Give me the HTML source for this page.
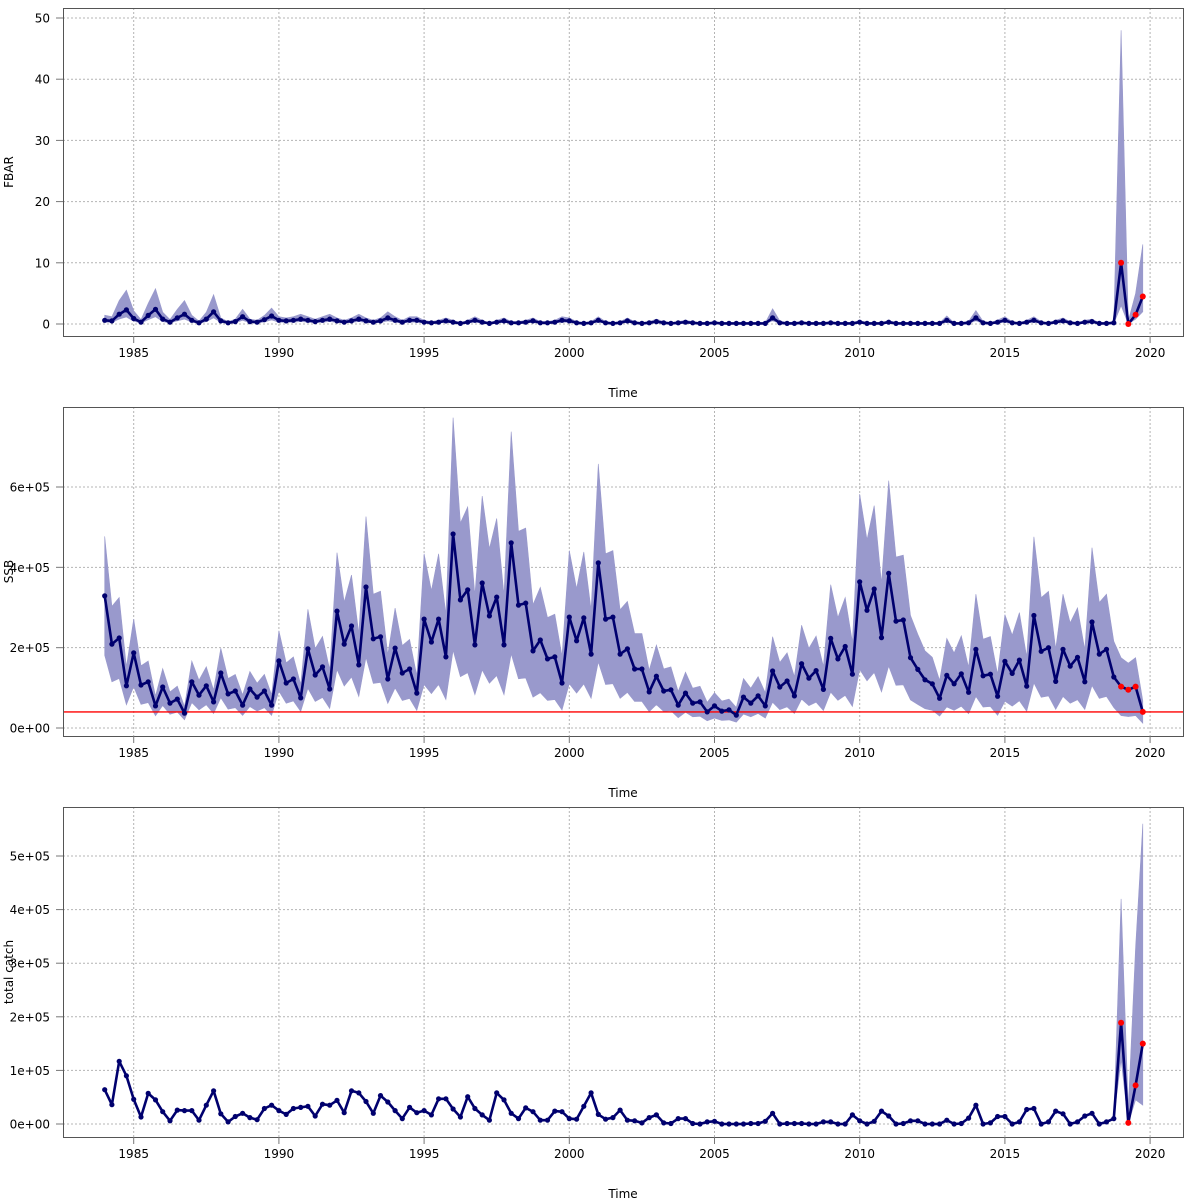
<!DOCTYPE html>
<html><head><meta charset="utf-8"><title>Stock assessment time series</title>
<style>
html,body{margin:0;padding:0;background:#fff;}
svg{display:block;font-family:"DejaVu Sans","Liberation Sans",sans-serif;}
</style></head>
<body>
<svg id="chart" width="1200" height="1200" viewBox="0 0 1200 1200" xmlns="http://www.w3.org/2000/svg"></svg>
<script>
// ---- data (quarterly, 1984 Q1 .. 2019 Q4) ----
const startYear = 1984;
const xTicks = [1985, 1990, 1995, 2000, 2005, 2010, 2015, 2020];

const fbar = [
 .6,.5,1.6,2.3, .9,.3,1.4,2.4, .8,.3,1.0,1.6, .6,.2,.8,2.0,
 .5,.2,.4,1.2, .4,.3,.7,1.3, .6,.5,.6,.8, .6,.4,.6,.8,
 .5,.3,.5,.8, .5,.3,.5,1.0, .6,.3,.6,.6, .3,.2,.3,.5,
 .3,.1,.3,.6, .3,.1,.3,.5, .2,.2,.3,.5, .2,.2,.3,.6,
 .5,.2,.1,.2, .6,.2,.1,.2, .5,.2,.1,.2, .4,.2,.1,.2,
 .3,.2,.1,.1, .2,.1,.1,.1, .1,.1,.1,.1, 1.0,.2,.1,.1,
 .2,.1,.1,.1, .2,.1,.1,.1, .3,.1,.1,.1, .3,.1,.1,.1,
 .1,.1,.1,.1, .6,.1,.1,.2, 1.0,.2,.1,.3, .6,.2,.1,.3,
 .6,.2,.1,.3, .5,.2,.1,.3, .4,.1,.1,.2, 10,0,1.5,4.5
];
// per-year band multipliers
const fbarUpF = [2.4,2.4,2.4,2.4,2.0,2.0,2.0,2.0,2.0,2.0,2.0,2.0,2.0,2.0,2.0,2.0,2.0,2.0,2.0,2.0,2.0,2.0,2.0,2.5,2.0,2.0,2.0,2.0,2.0,2.2,2.2,2.0,2.0,2.0,2.0,3.0];
const fbarLoF = [0.5,0.5,0.5,0.5,0.5,0.5,0.5,0.5,0.5,0.5,0.5,0.5,0.5,0.5,0.5,0.5,0.5,0.5,0.5,0.5,0.5,0.5,0.5,0.5,0.5,0.5,0.5,0.5,0.5,0.5,0.5,0.5,0.5,0.5,0.5,0.5];
const fbarUpLast = [48, 0.5, 5, 13];
const fbarLoLast = [3, 0, 0.8, 2];
const fbarYTicks = [0,10,20,30,40,50];
const fbarYLabels = ["0","10","20","30","40","50"];

// SSB in thousands of tonnes
const ssb = [
 329,209,224,105,187,107,115,55,102,62,72,37,115,82,105,65,137,85,92,57,97,77,92,57,
 167,112,122,75,197,132,152,97,291,209,254,157,351,222,227,122,199,137,147,87,271,214,271,177,483,
 319,344,207,361,279,326,207,461,306,311,192,219,172,177,112,276,217,274,184,411,
 271,276,184,197,147,147,90,129,92,95,57,87,62,65,40,55,42,45,32,77,62,80,55,142,102,117,80,
 160,124,143,96,223,172,203,134,364,293,346,225,385,266,269,175,146,120,110,74,131,110,135,89,
 196,130,134,79,166,136,169,104,280,191,200,116,196,154,176,115,264,184,196,127,103,95,103,40
];
const ssbUpF = [1.45,1.45,1.45,1.45,1.45,1.45,1.45,1.5,1.5,1.5,1.5,1.6,1.6,1.6,1.6,1.6,1.6,1.6,1.6,1.6,1.6,1.6,1.6,1.6,1.6,1.6,1.6,1.6,1.6,1.7,1.7,1.7,1.7,1.7,1.7,1.7];
const ssbLoF = [0.55,0.55,0.55,0.55,0.55,0.55,0.55,0.5,0.5,0.5,0.5,0.4,0.4,0.4,0.4,0.4,0.4,0.4,0.45,0.45,0.45,0.45,0.45,0.45,0.45,0.4,0.4,0.4,0.4,0.4,0.4,0.4,0.4,0.4,0.4,0.3];
const ssbRef = 40;
const ssbYTicks = [0,200,400,600];
const ssbYLabels = ["0e+00","2e+05","4e+05","6e+05"];

// total catch in thousands
const catchVals = [
 64,36,117,90,46,13,57,45,23,6,26,25,25,7,35,62,19,4,14,20,12,8,29,35,25,18,29,31,33,15,
 37,35,44,21,62,58,42,20,53,41,25,10,31,21,25,17,47,47,28,13,51,29,17,7,58,45,20,10,30,23,
 7,7,24,23,10,9,33,58,18,9,12,26,7,
 6,2,12,17,2,1,10,10,1,0,4,5,0,0,0,0,1,1,5,20,0,1,1,1,0,0,4,4,0,0,17,6,0,5,24,15,0,1,6,6,
 0,0,0,7,0,1,11,35,0,2,14,14,0,4,27,29,0,4,24,19,0,4,15,20,0,4,10,189,2,72,150
];
const catchUpLast = [420, 30, 330, 560];
const catchLoLast = [120, 1, 45, 35];
const catchYTicks = [0,100,200,300,400,500];
const catchYLabels = ["0e+00","1e+05","2e+05","3e+05","4e+05","5e+05"];

// ---- drawing ----
const NS = "http://www.w3.org/2000/svg";
const svg = document.getElementById("chart");
const L = 63, R = 1184;
function xOf(t){ return 133.7 + (t - 1985) * 29.04; }
function mk(tag, attrs, parent){
  const e = document.createElementNS(NS, tag);
  for (const k in attrs) e.setAttribute(k, attrs[k]);
  (parent || svg).appendChild(e);
  return e;
}

function panel(o){
  const g = mk("g", {});
  
  
  const yOf = v => o.y0 - (v - o.vmin) / (o.vmax - o.vmin) * (o.y0 - o.y1);
  const clipId = o.name + "-clip";
  const cp = mk("clipPath", {id: clipId}, g);
  mk("rect", {x: L, y: o.top, width: R - L, height: o.bottom - o.top}, cp);

  // grid
  const grid = mk("g", {stroke: "#b4b4b4", "stroke-width": 1, "stroke-dasharray": "2,2"}, g);
  
  
  xTicks.forEach(t => mk("line", {x1: xOf(t), x2: xOf(t), y1: o.top, y2: o.bottom}, grid));
  o.yTicks.forEach(v => mk("line", {x1: L, x2: R, y1: yOf(v), y2: yOf(v)}, grid));

  const n = o.vals.length;
  const ts = o.vals.map((v, i) => startYear + i / 4);

  // band
  if (o.up && o.lo){
    const pts = [];
    for (let i = 0; i < n; i++) pts.push(xOf(ts[i]).toFixed(1) + "," + yOf(o.up[i]).toFixed(1));
    for (let i = n - 1; i >= 0; i--) pts.push(xOf(ts[i]).toFixed(1) + "," + yOf(o.lo[i]).toFixed(1));
    const band = mk("polygon", {points: pts.join(" "), fill: "#9999cc", stroke: "#9999cc", "stroke-width": 0.6, "clip-path": "url(#" + clipId + ")"}, g);
    
    
  }
  if (o.ref !== undefined){
    const rl = mk("line", {x1: L, x2: R, y1: yOf(o.ref), y2: yOf(o.ref), stroke: "#ff0000", "stroke-width": 1.3}, g);
    
    
  }
  // line
  const lp = o.vals.map((v, i) => xOf(ts[i]).toFixed(1) + "," + yOf(v).toFixed(1)).join(" ");
  const line = mk("polyline", {points: lp, fill: "none", stroke: "#00006e", "stroke-width": 2.6, "stroke-linejoin": "round", "clip-path": "url(#" + clipId + ")"}, g);
  
  
  // points
  o.vals.forEach((v, i) => {
    const red = i >= n - 4;
    const c = mk("circle", {cx: xOf(ts[i]).toFixed(1), cy: yOf(v).toFixed(1), r: red ? 3 : 2.6, fill: red ? "#ff0000" : "#00006e"}, g);
    
    
  });

  // box
  const box = mk("rect", {x: L + 0.5, y: o.top + 0.5, width: R - L - 1, height: o.bottom - o.top, fill: "none", stroke: "#555", "stroke-width": 1}, g);
  
  

  // x axis
  const xa = mk("g", {}, g);
  
  
  xTicks.forEach(t => {
    mk("line", {x1: xOf(t), x2: xOf(t), y1: o.bottom, y2: o.bottom + 7, stroke: "#777", "stroke-width": 1}, xa);
    const tx = mk("text", {x: xOf(t), y: o.bottom + 21, "text-anchor": "middle", "font-size": 12, fill: "#000"}, xa);
    tx.textContent = t;
    
    
  });
  const xt = mk("text", {x: 623, y: o.bottom + 61, "text-anchor": "middle", "font-size": 12, fill: "#000"}, g);
  xt.textContent = "Time";
  
  

  // y axis
  const ya = mk("g", {}, g);
  
  
  o.yTicks.forEach((v, k) => {
    mk("line", {x1: L - 7, x2: L, y1: yOf(v), y2: yOf(v), stroke: "#777", "stroke-width": 1}, ya);
    const tx = mk("text", {x: 50, y: yOf(v) + 4.5, "text-anchor": "end", "font-size": 12, fill: "#000"}, ya);
    tx.textContent = o.yLabels[k];
    
    
  });
  const cy = (o.top + o.bottom) / 2;
  const yt = mk("text", {x: 13, y: cy, "text-anchor": "middle", "font-size": 12, fill: "#000", transform: "rotate(-90 13 " + cy + ")"}, g);
  yt.textContent = o.title;
  
  
}

// band arrays from data
const nQ = fbar.length;
const fbarUp = fbar.map((v, i) => i >= nQ - 4 ? fbarUpLast[i - (nQ - 4)] : v * fbarUpF[Math.floor(i / 4)]);
const fbarLo = fbar.map((v, i) => i >= nQ - 4 ? fbarLoLast[i - (nQ - 4)] : v * fbarLoF[Math.floor(i / 4)]);
const ssbUp = ssb.map((v, i) => v * ssbUpF[Math.floor(i / 4)]);
const ssbLo = ssb.map((v, i) => v * ssbLoF[Math.floor(i / 4)]);
const nC = catchVals.length;
const catchUp = catchVals.map((v, i) => i >= nC - 4 ? catchUpLast[i - (nC - 4)] : v);
const catchLo = catchVals.map((v, i) => i >= nC - 4 ? catchLoLast[i - (nC - 4)] : v);

panel({name: "fbar", title: "FBAR", top: 8, bottom: 336, y0: 324, y1: 18, vmin: 0, vmax: 50,
  vals: fbar, up: fbarUp, lo: fbarLo, yTicks: fbarYTicks, yLabels: fbarYLabels});
panel({name: "ssb", title: "SSB", top: 407, bottom: 736, y0: 728, y1: 487, vmin: 0, vmax: 600,
  vals: ssb, up: ssbUp, lo: ssbLo, ref: ssbRef, yTicks: ssbYTicks, yLabels: ssbYLabels});
panel({name: "catch", title: "total catch", top: 807, bottom: 1137, y0: 1124, y1: 856, vmin: 0, vmax: 500,
  vals: catchVals, up: catchUp, lo: catchLo, yTicks: catchYTicks, yLabels: catchYLabels});
</script>
</body></html>
